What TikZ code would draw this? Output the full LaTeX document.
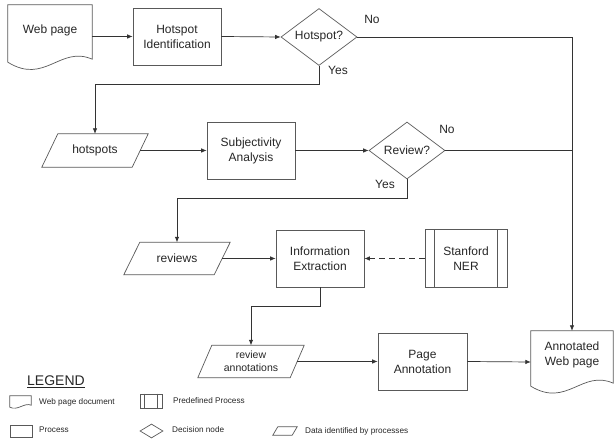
\documentclass[tikz,border=0pt]{standalone}
\usepackage{fontspec}
\setmainfont{Liberation Sans}
\usetikzlibrary{shapes.geometric,arrows.meta,calc}
\newcommand{\docdraw}[5]{%
  \draw[shp] ($(#1.south west)+(0,-#2)$) -- (#1.north west) -- (#1.north east)
    -- ($(#1.south east)+(0,-#3)$) .. controls +#4 and +#5 .. ($(#1.south west)+(0,-#2)$) -- cycle;}
\newcommand{\paradraw}[2]{%
  \draw[shp] ($(#1.south west)+(-#2,0)$) -- ($(#1.north west)+(#2,0)$)
    -- ($(#1.north east)+(#2,0)$) -- ($(#1.south east)+(-#2,0)$) -- cycle;}
\newcommand{\predraw}[2]{%
  \draw[shp] ($(#1.north west)+(#2,0)$) -- ($(#1.south west)+(#2,0)$);
  \draw[shp] ($(#1.north east)+(-#2,0)$) -- ($(#1.south east)+(-#2,0)$);}
\tikzset{
  shp/.style={draw=black!65, line width=0.7pt},
  conn/.style={draw=black!80, line width=0.7pt},
  arr/.style={conn, -{Latex[length=5.5pt,width=4.5pt]}},
  txt/.style={font=\fontsize{12}{15}\selectfont, align=center, text=black!85},
  procbox/.style={shp, txt, rectangle, minimum width=88pt, minimum height=57pt, inner sep=0pt},
  decide/.style={shp, txt, diamond, minimum width=76pt, minimum height=57pt, inner sep=0pt, aspect=1.33},
  ghost/.style={rectangle, inner sep=0pt, txt},
  lbl/.style={txt, inner sep=0pt},
  legtxt/.style={font=\fontsize{8.2}{10}\selectfont, text=black!85, anchor=west, inner sep=0pt},
}
\begin{document}
\begin{tikzpicture}[x=1pt,y=-1pt]
\useasboundingbox (0,0) rectangle (614,443);
% main nodes
\node[ghost, minimum width=84pt, minimum height=63pt] (web) at (50,36.5) {};
\docdraw{web}{6}{9}{(-32,-14)}{(37,23)}
\node[lbl] (webtxt) at (50,30) {Web page};
\node[procbox] (hid) at (177,36.5) {Hotspot\\Identification};
\node[decide] (hq) at (319,37) {Hotspot?};
\node[ghost, minimum width=90pt, minimum height=33pt] (hs) at (95,150.5) {hotspots};
\paradraw{hs}{8}
\node[procbox] (sa) at (251,150.5) {Subjectivity\\Analysis};
\node[decide] (rq) at (407,150.5) {Review?};
\node[ghost, minimum width=90pt, minimum height=32pt] (rv) at (177,258.5) {reviews};
\paradraw{rv}{8}
\node[procbox] (ie) at (320,258.5) {Information\\Extraction};
\node[procbox, minimum width=82pt, minimum height=58pt] (ner) at (466,258.5) {Stanford\\NER};
\predraw{ner}{10}
\node[ghost, minimum width=92pt, minimum height=32pt, font=\fontsize{10.5}{13}\selectfont] (ra) at (251,361.5) {review\\annotations};
\paradraw{ra}{7}
\node[procbox, minimum width=89pt] (pa) at (422.5,361.5) {Page\\Annotation};
\node[ghost, minimum width=82pt, minimum height=62pt] (aw) at (572,362) {};
\docdraw{aw}{7}{10}{(-31,-14)}{(36,22)}
\node[lbl] (awtxt) at (572,354.5) {Annotated\\Web page};
% labels
\node[lbl] (no1) at (372,19) {No};
\node[lbl] (yes1) at (338,70) {Yes};
\node[lbl] (no2) at (447,129) {No};
\node[lbl] (yes2) at (385,184) {Yes};
% connectors
\draw[arr] (web.east) -- (hid.west);
\draw[arr] (hid.east) -- (hq.west);
\draw[arr] (hq.east) -| (aw.north);
\draw[arr] (hq.south) -- ++(0,19) -| (hs.north);
\draw[arr] (hs.east) -- (sa.west);
\draw[arr] (sa.east) -- (rq.west);
\draw[conn] (rq.east) -- (rq.east -| aw.north);
\draw[arr] (rq.south) -- ++(0,19) -| (rv.north);
\draw[arr] (rv.east) -- (ie.west);
\draw[arr, dash pattern=on 6pt off 4pt] (ner.west) -- (ie.east);
\draw[arr] (ie.south) -- ++(0,19) -| (ra.north);
\draw[arr] (ra.east) -- (pa.west);
\draw[arr] (pa.east) -- (aw.west);
% legend
\node[anchor=base west, inner sep=0pt, font=\fontsize{14}{16}\selectfont, text=black!85] (legend) at (27,386) {\underline{LEGEND}};
\node[ghost, minimum width=21pt, minimum height=13pt] (ldoc) at (20.5,402.5) {};
\docdraw{ldoc}{2}{4}{(-7,-3)}{(8,4)}
\node[legtxt] (ldoctxt) at (39,402) {Web page document};
\node[shp, rectangle, inner sep=0pt, minimum width=22pt, minimum height=14pt] (lpre) at (151,401) {};
\predraw{lpre}{5}
\node[legtxt] (lpretxt) at (173,401) {Predefined Process};
\node[shp, rectangle, inner sep=0pt, minimum width=22pt, minimum height=12pt] (lproc) at (21,431) {};
\node[legtxt] (lproctxt) at (39,430) {Process};
\node[shp, diamond, inner sep=0pt, minimum width=23pt, minimum height=14pt] (ldec) at (151.5,431) {};
\node[legtxt] (ldectxt) at (172,430) {Decision node};
\node[ghost, minimum width=19pt, minimum height=8pt] (lpar) at (285,431) {};
\paradraw{lpar}{2.5}
\node[legtxt] (lpartxt) at (305,431) {Data identified by processes};
\end{tikzpicture}
\end{document}
